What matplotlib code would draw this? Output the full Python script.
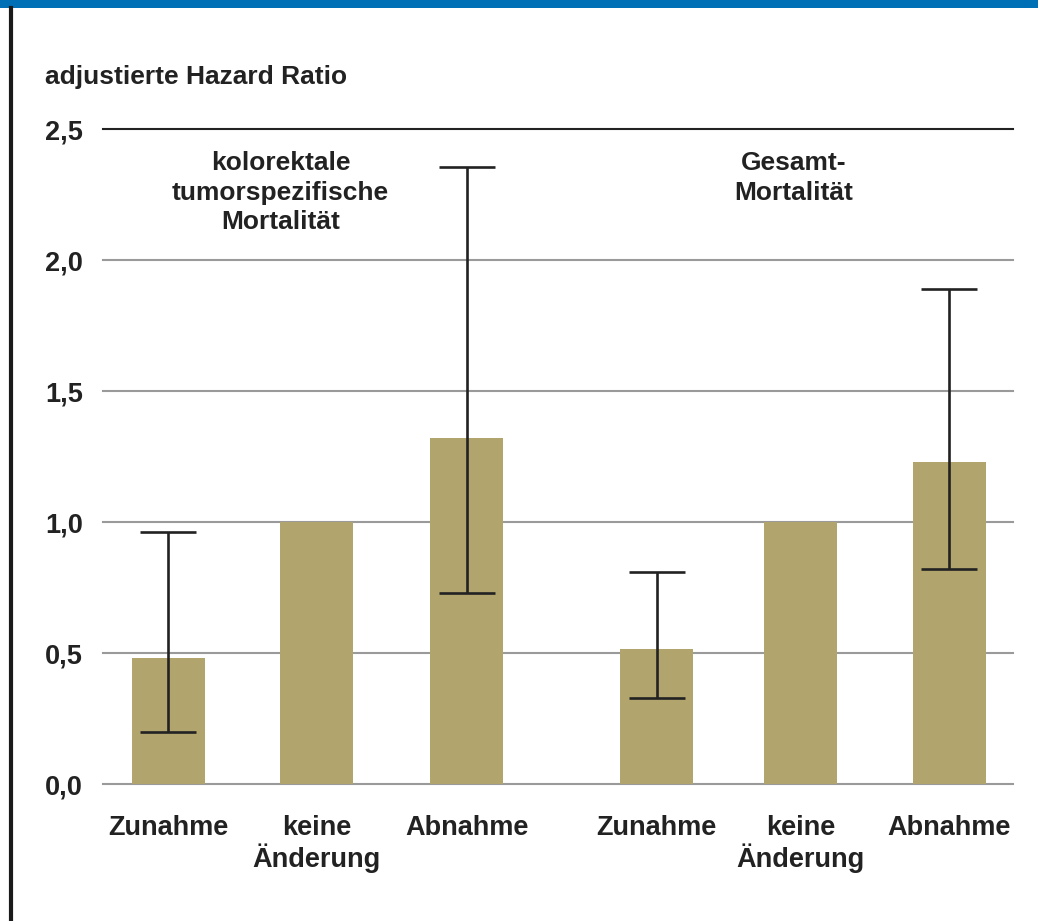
import matplotlib
matplotlib.use("Agg")
import matplotlib.pyplot as plt
from matplotlib.lines import Line2D
from matplotlib.patches import Rectangle
import numpy as np

categories = ["Zunahme", "keine\nÄnderung", "Abnahme", "Zunahme", "keine\nÄnderung", "Abnahme"]
hazard_ratio = [0.48, 1.00, 1.32, 0.515, 1.00, 1.23]
ci_low = [0.20, np.nan, 0.73, 0.33, np.nan, 0.82]
ci_high = [0.96, np.nan, 2.355, 0.81, np.nan, 1.89]
yticks = [0.0, 0.5, 1.0, 1.5, 2.0, 2.5]
ytick_labels = ["0,0", "0,5", "1,0", "1,5", "2,0", "2,5"]
group_titles = ["kolorektale\ntumorspezifische\nMortalität", "Gesamt-\nMortalität"]
ylabel = "adjustierte Hazard Ratio"

positions = [0.0, 1.0, 2.01, 3.29, 4.26, 5.26]
group_title_x = [0.755, 4.215]

plt.rcParams['font.family'] = ['Liberation Sans', 'DejaVu Sans']
plt.rcParams['font.weight'] = 'bold'

W, H = 1038, 921
fig = plt.figure(figsize=(W / 100, H / 100), dpi=100)
fig.patch.set_facecolor("white")

# frame decorations
fig.patches.append(Rectangle((0, 1 - 8 / H), 1, 8 / H, transform=fig.transFigure,
                             facecolor="#0070b6", edgecolor="none"))
fig.lines.append(Line2D([11 / W, 11 / W], [0, 1 - 8 / H], transform=fig.transFigure,
                        color="#1a1a1a", lw=3))

ax = fig.add_axes([103 / W, 1 - 784 / H, (1013 - 103) / W, (784 - 129) / H])
ax.set_xlim(-0.44, 5.69)
ax.set_ylim(0, 2.5)

for t in yticks:
    col = "#222222" if t == 2.5 else "#9a9a9a"
    ax.axhline(t, color=col, lw=1.5, zorder=0, clip_on=False)

bar_color = "#b1a46c"
ax.bar(positions, hazard_ratio, width=0.49, color=bar_color, zorder=2)

hr = np.array(hazard_ratio)
lo = np.array(ci_low)
hi = np.array(ci_high)
mask = ~np.isnan(lo)
pos = np.array(positions)
ax.errorbar(pos[mask], hr[mask], yerr=[hr[mask] - lo[mask], hi[mask] - hr[mask]],
            fmt="none", ecolor="#222222", elinewidth=1.9, capsize=20, capthick=1.9,
            zorder=3)

for sp in ax.spines.values():
    sp.set_visible(False)

ax.set_yticks(yticks)
ax.set_yticklabels(ytick_labels, fontsize=19.5, fontweight="bold", color="#222222")
ax.set_xticks(positions)
ax.set_xticklabels(categories, fontsize=19.5, fontweight="bold", color="#222222",
                   linespacing=1.12)
ax.tick_params(axis="y", length=0, pad=14.5)
ax.tick_params(axis="x", length=0, pad=22)

for x, t in zip(group_title_x, group_titles):
    ax.text(x, 2.415, t, ha="center", va="top", fontsize=19, fontweight="bold",
            color="#222222", linespacing=1.28)

fig.text(45 / W, 1 - 84 / H, ylabel, ha="left", va="baseline", fontsize=19,
         fontweight="bold", color="#222222")

fig.savefig("out.png", dpi=100)
